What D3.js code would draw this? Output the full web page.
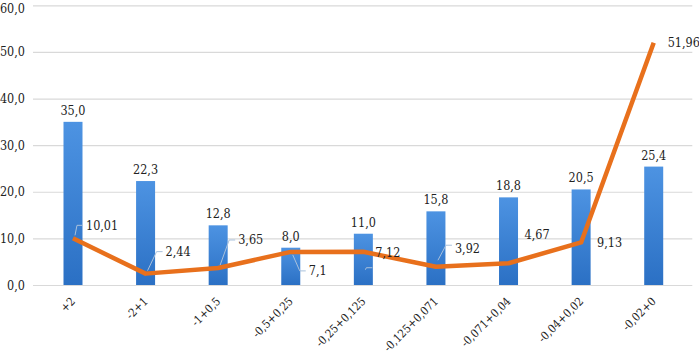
<!DOCTYPE html>
<html>
<head>
<meta charset="utf-8">
<script src="https://cdn.jsdelivr.net/npm/d3@7"></script>
<style>
  body { margin: 0; background: #fff; }
  svg text { fill: #222; font-stretch: condensed; }
</style>
</head>
<body>
<div id="chart"></div>
<script>
// categories and series values
const categories = ["+2", "-2+1", "-1+0,5", "-0,5+0,25", "-0,25+0,125", "-0,125+0,071", "-0,071+0,04", "-0,04+0,02", "-0,02+0"];
const barValues = [35.0, 22.3, 12.8, 8.0, 11.0, 15.8, 18.8, 20.5, 25.4];
const lineValues = [10.01, 2.44, 3.65, 7.1, 7.12, 3.92, 4.67, 9.13, 51.96];
const yTicks = [0, 10, 20, 30, 40, 50, 60];

// label placement for the line labels (pixels relative to the point)
const lineLabelOffsets = [[13, -13], [20, -22], [20, -28], [18, 19], [12, 1], [19, -18], [16, -29], [16, 0], [14, 0]];

const fmt1 = d => d3.format(".1f")(d).replace(".", ",");
const fmtLine = d => String(d).replace(".", ",");
const FONT = '"DejaVu Serif Condensed", "DejaVu Serif", serif';

const W = 699, H = 354;
const margin = {top: 5.3, right: 9, bottom: 69, left: 36.7};
const width = W - margin.left - margin.right;
const height = H - margin.top - margin.bottom;

const svg = d3.select("#chart").append("svg")
    .attr("width", W)
    .attr("height", H)
    .style("font-family", FONT);

const defs = svg.append("defs");
const grad = defs.append("linearGradient")
    .attr("id", "barGrad")
    .attr("x1", 0).attr("y1", 0).attr("x2", 0).attr("y2", 1);
grad.append("stop").attr("offset", "0%").attr("stop-color", "#4d93e2");
grad.append("stop").attr("offset", "100%").attr("stop-color", "#2b70c4");

const chart = svg.append("g")
    .attr("transform", `translate(${margin.left},${margin.top})`);

const xScale = d3.scaleBand()
    .domain(categories)
    .range([0, width]);

const yScale = d3.scaleLinear()
    .domain([0, 60])
    .range([height, 0]);

// gridlines + y labels
const yAxis = d3.axisLeft(yScale)
    .tickValues(yTicks)
    .tickSize(-(width + 6))
    .tickPadding(8)
    .tickFormat(fmt1);

const yAxisG = chart.append("g")
    .attr("transform", "translate(-3.7,0)")
    .call(yAxis)
    .attr("font-family", null);
yAxisG.select(".domain").remove();
yAxisG.selectAll(".tick line").attr("stroke", "#d9d9d9").attr("stroke-width", 1.2);
yAxisG.selectAll(".tick text")
    .style("font-family", FONT)
    .style("font-size", "12.5px")
    .attr("dy", d => d === 60 ? "0.55em" : "0.32em")
    .attr("fill", "#222");

// bars
const barW = 19;
chart.selectAll(".bar")
    .data(barValues)
    .join("rect")
    .attr("class", "bar")
    .attr("x", (d, i) => xScale(categories[i]) + xScale.bandwidth() / 2 - barW / 2)
    .attr("y", d => yScale(d))
    .attr("width", barW)
    .attr("height", d => yScale(0) - yScale(d))
    .attr("fill", "url(#barGrad)");

// bar labels
chart.selectAll(".bar-label")
    .data(barValues)
    .join("text")
    .attr("class", "bar-label")
    .attr("x", (d, i) => xScale(categories[i]) + xScale.bandwidth() / 2)
    .attr("y", d => yScale(d) - 7)
    .attr("text-anchor", "middle")
    .style("font-family", FONT)
    .style("font-size", "12.5px")
    .text(fmt1);

// x labels, rotated
const xAxis = d3.axisBottom(xScale).tickSize(0).tickPadding(0);
const xAxisG = chart.append("g")
    .attr("transform", `translate(0,${height})`)
    .call(xAxis)
    .attr("font-family", null);
xAxisG.select(".domain").remove();
xAxisG.selectAll(".tick text")
    .style("font-family", FONT)
    .style("font-size", "11.5px")
    .attr("fill", "#222")
    .attr("text-anchor", "end")
    .attr("dy", 0)
    .attr("transform", "translate(3,17) rotate(-45)");

// line
const px = (d, i) => xScale(categories[i]) + xScale.bandwidth() / 2;
const line = d3.line()
    .x(px)
    .y(d => yScale(d));

chart.append("path")
    .datum(lineValues)
    .attr("fill", "none")
    .attr("stroke", "#e8701c")
    .attr("stroke-width", 4.5)
    .attr("stroke-linejoin", "round")
    .attr("d", line);

// leader lines for the line labels
chart.selectAll(".leader")
    .data(lineValues)
    .join("polyline")
    .attr("class", "leader")
    .filter((d, i) => Math.abs(lineLabelOffsets[i][1]) > 10)
    .attr("fill", "none")
    .attr("stroke", "#a9c1dc")
    .attr("stroke-width", 1)
    .attr("points", (d, i) => {
        const x = px(d, i), y = yScale(d);
        const [dx, dy] = lineLabelOffsets[i];
        const sy = dy < 0 ? -3 : 3;
        return [[x + 2, y + sy], [x + dx - 9, y + dy], [x + dx - 3, y + dy]].join(" ");
    });

// line labels
chart.selectAll(".line-label")
    .data(lineValues)
    .join("text")
    .attr("class", "line-label")
    .attr("x", (d, i) => px(d, i) + lineLabelOffsets[i][0])
    .attr("y", (d, i) => yScale(d) + lineLabelOffsets[i][1])
    .attr("dy", "0.35em")
    .style("font-family", FONT)
    .style("font-size", "12.5px")
    .text(fmtLine);
</script>
</body>
</html>
